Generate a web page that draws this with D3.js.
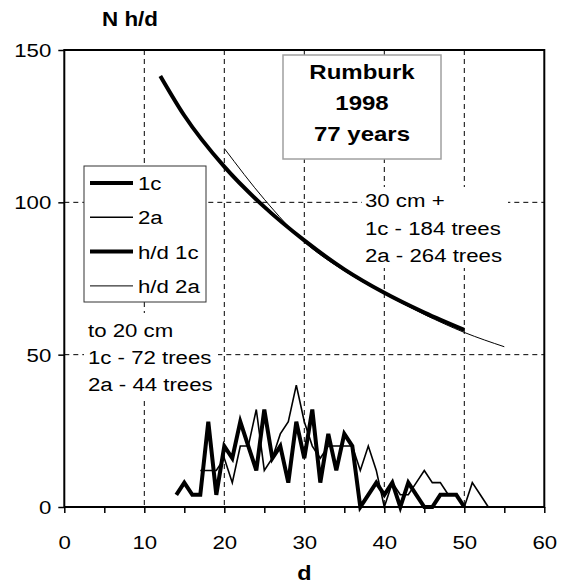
<!DOCTYPE html>
<html>
<head>
<meta charset="utf-8">
<script src="https://cdn.jsdelivr.net/npm/d3@7/dist/d3.min.js"></script>
<style>
  body { margin: 0; background: #fff; }
  text { font-family: Arial, "Liberation Sans", sans-serif; fill: #000; }
</style>
</head>
<body>
<script>
// counts per diameter class
const d1c = d3.range(14, 51);
const n1c = [4,8,4,4,28,4,20,16,28,20,12,32,16,20,8,28,16,32,8,24,12,24,20,0,4,8,4,8,0,8,4,0,0,4,4,4,0];
const d2a = d3.range(17, 54);
const n2a = [12,12,12,16,8,20,20,32,12,16,24,28,40,28,20,16,20,20,20,20,12,20,12,0,8,4,4,8,12,8,8,4,4,0,8,4,0];

// h/d curves
const hdD1c = [12,15,20,25,30,35,40,45,50];
const hd1c = [141.5,128.5,111.7,98.5,87.5,78,70.3,63.8,58.1];
const hdD2a = [20,25,30,35,40,45,50,55];
const hd2a = [117.7,101,87,77.5,70,63.2,57.3,52.6];

const xTicks = [0,10,20,30,40,50,60];
const xMinor = d3.range(0, 61, 5);
const yTicks = [0,50,100,150];
const gridX = [10,20,30,40,50];
const gridY = [50,100];
const legendLabels = ["1c","2a","h/d 1c","h/d 2a"];
const legendWidths = [4,1.6,4,1];
const titleLines = ["Rumburk","1998","77 years"];
const noteBig = ["30 cm +","1c - 184 trees","2a - 264 trees"];
const noteSmall = ["to 20 cm","1c - 72 trees","2a - 44 trees"];

const W = 568, H = 587;
const FS = 19, SX = 1.17; // text in the original is a bit wide
const svg = d3.select("body").append("svg").attr("width", W).attr("height", H);

const x = d3.scaleLinear().domain([0, 60]).range([64.3, 544.3]);
const y = d3.scaleLinear().domain([0, 150]).range([507, 50]);

// put a text at (px,py) stretched horizontally
function wide(sel, px, py, sx) {
  sel.attr("transform", (d, i) => {
    const a = typeof px === "function" ? px(d, i) : px;
    const b = typeof py === "function" ? py(d, i) : py;
    return `translate(${a},${b}) scale(${sx},1)`;
  });
  return sel;
}

// dashed grid
svg.selectAll(".gx").data(gridX).enter().append("line")
  .attr("x1", d => x(d)).attr("x2", d => x(d))
  .attr("y1", y(150)).attr("y2", y(0))
  .attr("stroke", "#000").attr("stroke-width", 1).attr("stroke-dasharray", "5,4");
svg.selectAll(".gy").data(gridY).enter().append("line")
  .attr("x1", x(0)).attr("x2", x(60))
  .attr("y1", d => y(d)).attr("y2", d => y(d))
  .attr("stroke", "#000").attr("stroke-width", 1).attr("stroke-dasharray", "5,4");

// text boxes with white fill
svg.append("rect").attr("x", 362).attr("y", 187).attr("width", 146).attr("height", 81).attr("fill", "#fff");
svg.append("rect").attr("x", 84).attr("y", 313).attr("width", 134).attr("height", 85).attr("fill", "#fff");

const smooth = d3.line().x(d => x(d[0])).y(d => y(d[1])).curve(d3.curveMonotoneX);
const straight = d3.line().x(d => x(d[0])).y(d => y(d[1]));

svg.append("path").attr("d", smooth(d3.zip(hdD2a, hd2a)))
  .attr("fill", "none").attr("stroke", "#000").attr("stroke-width", 1);
svg.append("path").attr("d", smooth(d3.zip(hdD1c, hd1c)))
  .attr("fill", "none").attr("stroke", "#000").attr("stroke-width", 4);

svg.append("path").attr("d", straight(d3.zip(d2a, n2a)))
  .attr("fill", "none").attr("stroke", "#000").attr("stroke-width", 1.6);
svg.append("path").attr("d", straight(d3.zip(d1c, n1c)))
  .attr("fill", "none").attr("stroke", "#000").attr("stroke-width", 4);

// frame
svg.append("rect").attr("x", x(0)).attr("y", y(150))
  .attr("width", x(60) - x(0)).attr("height", y(0) - y(150))
  .attr("fill", "none").attr("stroke", "#000").attr("stroke-width", 2);

// axes
const xAxis = svg.append("g").attr("transform", `translate(0,${y(0)})`)
  .call(d3.axisBottom(x).tickValues(xMinor).tickSize(6).tickFormat(d => xTicks.includes(d) ? d : ""));
const yAxis = svg.append("g").attr("transform", `translate(${x(0)},0)`)
  .call(d3.axisLeft(y).tickValues(yTicks).tickSize(6));
[xAxis, yAxis].forEach(g => {
  g.select(".domain").remove();
  g.selectAll(".tick line").attr("stroke", "#000").attr("stroke-width", 1.5);
  g.selectAll("text").style("font-family", "Arial, 'Liberation Sans', sans-serif").style("font-size", FS + "px");
});
xAxis.selectAll("text").attr("y", 0).attr("dy", 0).attr("transform", `translate(0,42) scale(${SX},1)`);
yAxis.selectAll("text").attr("x", 0).attr("dy", "0.35em").attr("transform", `translate(-13,0) scale(${SX},1)`);

wide(svg.append("text").attr("text-anchor", "middle")
  .style("font-size", "20px").style("font-weight", "bold").text("d"), x(30), 580, SX);
wide(svg.append("text")
  .style("font-size", "20px").style("font-weight", "bold").text("N h/d"), 102, 26, 1.12);

// title box
svg.append("rect").attr("x", 283).attr("y", 55).attr("width", 158).attr("height", 104)
  .attr("fill", "#fff").attr("stroke", "#a0a0a0").attr("stroke-width", 1.5);
wide(svg.selectAll(".title").data(titleLines).enter().append("text")
  .attr("text-anchor", "middle")
  .style("font-size", "20px").style("font-weight", "bold").text(d => d),
  362, (d, i) => 79 + i * 31, 1.2);

// notes
wide(svg.selectAll(".nb").data(noteBig).enter().append("text")
  .style("font-size", FS + "px").text(d => d), 365, (d, i) => 207 + i * 27.5, SX);
wide(svg.selectAll(".ns").data(noteSmall).enter().append("text")
  .style("font-size", FS + "px").text(d => d), 88, (d, i) => 337 + i * 27, SX);

// legend
const lg = svg.append("g");
lg.append("rect").attr("x", 84).attr("y", 166).attr("width", 122).attr("height", 136)
  .attr("fill", "#fff").attr("stroke", "#333").attr("stroke-width", 1);
const li = lg.selectAll(".li").data(legendLabels).enter().append("g")
  .attr("transform", (d, i) => `translate(0,${183 + i * 34.3})`);
li.append("line").attr("x1", 90).attr("x2", 133)
  .attr("stroke", "#000").attr("stroke-width", (d, i) => legendWidths[i]);
wide(li.append("text").style("font-size", FS + "px").text(d => d), 138, 7, SX);
</script>
</body>
</html>
